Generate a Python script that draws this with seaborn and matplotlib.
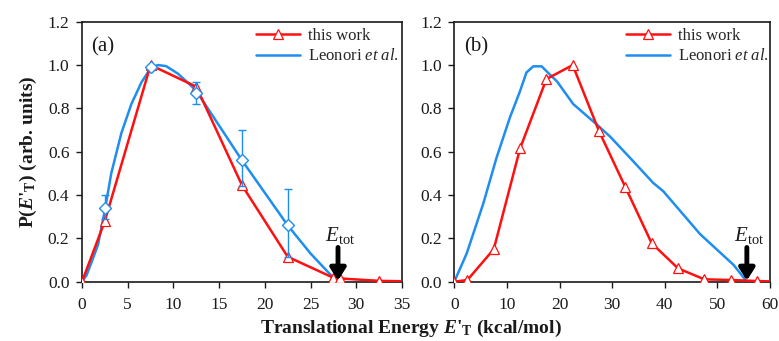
import matplotlib.pyplot as plt
from matplotlib.lines import Line2D
import pandas as pd
import seaborn as sns

# panel (a): this work
a_work_x = [0, 2.5, 7.5, 12.5, 17.5, 22.5, 27.5, 28.2, 32.5, 37.5]
a_work_y = [0.0, 0.28, 1.0, 0.90, 0.445, 0.115, 0.018, 0.015, 0.004, 0.0]
# panel (a): Leonori et al. curve + points with error bars
a_leo_x = [0, 0.5, 1.0, 1.75, 2.5, 3.2, 4.3, 5.4, 6.5, 7.5, 8.3, 9.2, 10.5, 12.3, 12.9,
           17.5, 22.5, 25.0, 27.9]
a_leo_y = [0.0, 0.03, 0.085, 0.17, 0.33, 0.50, 0.685, 0.82, 0.92, 0.985, 1.0, 0.995, 0.96,
           0.89, 0.855, 0.56, 0.26, 0.13, 0.0]
a_pts_x = [2.5, 7.5, 12.5, 17.5, 22.5]
a_pts_y = [0.34, 0.99, 0.87, 0.56, 0.26]
a_err_lo = [0.05, 0.0, 0.05, 0.12, 0.145]
a_err_hi = [0.06, 0.0, 0.05, 0.14, 0.17]

# panel (b): this work
b_work_x = [0, 2.5, 7.5, 12.5, 17.5, 22.5, 27.5, 32.5, 37.5, 42.5, 47.5, 52.5, 57.5, 62.5]
b_work_y = [0.0, 0.008, 0.15, 0.615, 0.935, 1.0, 0.695, 0.437, 0.178, 0.062, 0.011, 0.008,
            0.003, 0.0]
# panel (b): Leonori et al.
b_leo_x = [0, 2.35, 5.5, 8.0, 10.6, 12.5, 13.7, 15.0, 16.6, 18.0, 19.5, 22.6, 27.1, 29.6,
           34.0, 37.8, 39.7, 46.7, 53.1, 55.6]
b_leo_y = [0.0, 0.13, 0.36, 0.57, 0.76, 0.88, 0.965, 0.994, 0.994, 0.96, 0.925, 0.82, 0.725,
           0.67, 0.556, 0.456, 0.418, 0.22, 0.077, 0.0]

e_tot = [28.0, 55.6]
xmax = [35, 60]
xstep = [5, 10]
panel_tags = ["(a)", "(b)"]

sns.set_theme(style="ticks")
plt.rcParams['font.family'] = ['Liberation Serif', 'DejaVu Serif']
plt.rcParams['mathtext.fontset'] = 'custom'
plt.rcParams['mathtext.rm'] = 'Liberation Serif'
plt.rcParams['mathtext.it'] = 'Liberation Serif:italic'
plt.rcParams['mathtext.bf'] = 'Liberation Serif:bold'
plt.rcParams['mathtext.bfit'] = 'Liberation Serif:italic:bold'

red = "#ff1010"
blue = "#1e8ef0"
ink = "#1a1a1a"

fig = plt.figure(figsize=(7.79, 3.41), dpi=100)
ax_a = fig.add_axes([82 / 779, 59.3 / 341, 320 / 779, 260 / 341])
ax_b = fig.add_axes([454.3 / 779, 59.3 / 341, 315.7 / 779, 260 / 341])

panels = [
    (ax_a, a_work_x, a_work_y, a_leo_x, a_leo_y),
    (ax_b, b_work_x, b_work_y, b_leo_x, b_leo_y),
]

for i, (ax, wx, wy, lx, ly) in enumerate(panels):
    work = pd.DataFrame({"x": wx, "y": wy})
    leo = pd.DataFrame({"x": lx, "y": ly})
    sns.lineplot(data=leo, x="x", y="y", sort=False, estimator=None, color=blue,
                 linewidth=1.8, ax=ax, zorder=2)
    sns.lineplot(data=work, x="x", y="y", sort=False, estimator=None, color=red,
                 linewidth=1.8, ax=ax, zorder=3, marker="^",
                 markersize=7, markerfacecolor="white", markeredgecolor=red,
                 markeredgewidth=0.9,
                 markevery=[k for k, v in enumerate(wx) if v <= xmax[i]])
    if i == 0:
        ax.errorbar(a_pts_x, a_pts_y, yerr=[a_err_lo, a_err_hi], fmt="D", color=blue,
                    markerfacecolor="white", markeredgecolor=blue, markersize=6,
                    markeredgewidth=1.0, ecolor=blue, elinewidth=1.0, capsize=3,
                    zorder=4)

    ax.set_xlim(0, xmax[i])
    ax.set_ylim(0, 1.2)
    ax.set_xticks(range(0, xmax[i] + 1, xstep[i]))
    ax.set_yticks([0.0, 0.2, 0.4, 0.6, 0.8, 1.0, 1.2])
    ax.set_yticklabels([f"{v:.1f}" for v in [0.0, 0.2, 0.4, 0.6, 0.8, 1.0, 1.2]])
    ax.tick_params(axis="both", labelsize=12.5, direction="out", length=4, width=1,
                   colors=ink, labelcolor=ink)
    ax.tick_params(axis="x", pad=7)
    ax.tick_params(axis="y", pad=5)
    ax.tick_params(top=False, right=False)
    for sp in ax.spines.values():
        sp.set_visible(True)
        sp.set_linewidth(1.2)
        sp.set_color(ink)
    ax.set_xlabel("")
    ax.set_ylabel("")

    ax.text(0.03, 0.905, panel_tags[i], transform=ax.transAxes, fontsize=15,
            ha="left", va="center", color=ink)

    ax.annotate("", xy=(e_tot[i], 0.005), xytext=(e_tot[i], 0.158),
                arrowprops=dict(arrowstyle="-|>,head_width=0.38,head_length=0.6",
                                color="black", lw=3.5, shrinkA=0, shrinkB=0))
    ax.text(e_tot[i] + 0.2 * xstep[i] / 5, 0.215, r"$E_{\mathrm{tot}}$", fontsize=15,
            ha="center", va="center", color=ink)

    handles = [
        Line2D([], [], color=red, lw=1.8, marker="^", markersize=7,
               markerfacecolor="white", markeredgecolor=red, markeredgewidth=0.9),
        Line2D([], [], color=blue, lw=1.8),
    ]
    ax.legend(handles, ["this work", r"Leonori $\mathit{et\ al.}$"],
              loc="upper left", bbox_to_anchor=(0.545, 0.975), frameon=False,
              fontsize=12, handlelength=2.6, handletextpad=0.5, numpoints=1,
              borderpad=0, borderaxespad=0, labelspacing=0.25)

ax_a.set_ylabel(r"P($\mathbfit{E}$'$_{\mathbf{T}}$) (arb. units)", fontsize=14,
                fontweight="bold", labelpad=6, color=ink)
fig.text(0.528, 0.037, r"Translational Energy $\mathbfit{E}$'$_{\mathbf{T}}$ (kcal/mol)",
         fontsize=14, fontweight="bold", ha="center", va="center", color=ink)

fig.savefig("out.png", dpi=100, facecolor="white")
